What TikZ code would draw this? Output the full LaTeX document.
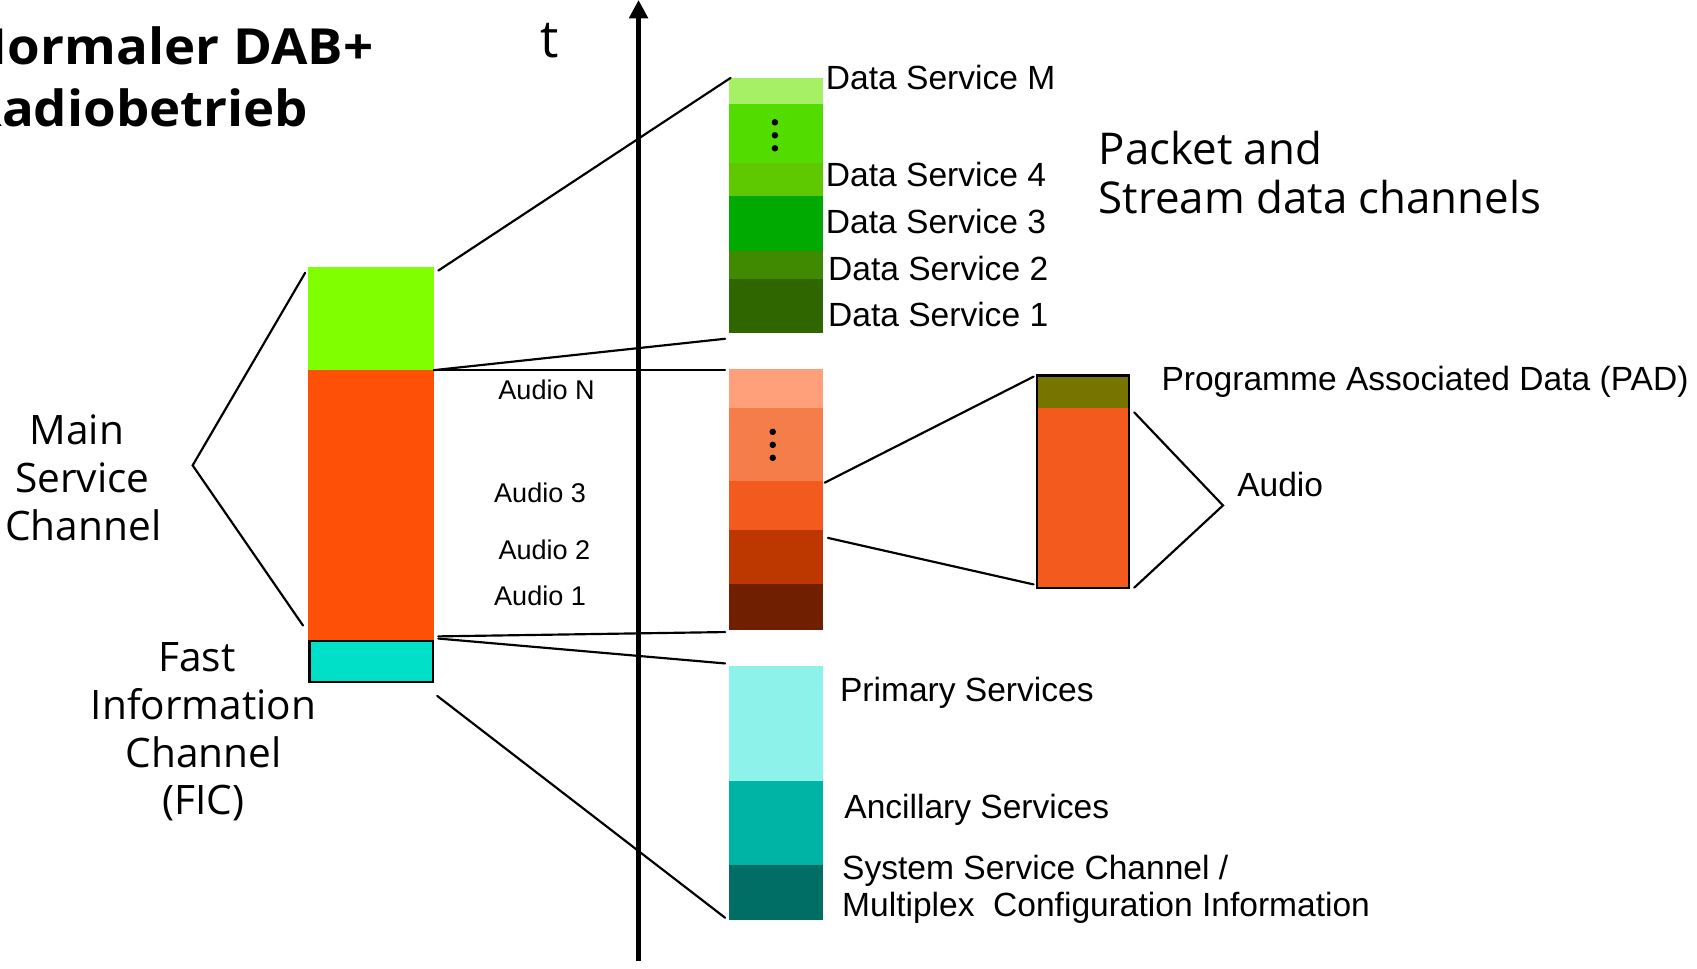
\documentclass[tikz,border=0pt]{standalone}
\usepackage{fontspec}
\setmainfont{Liberation Sans}
\newfontfamily\fru{Open Sans}
\newfontfamily\frutit{Open Sans}[FakeStretch=1.06]
\usetikzlibrary{arrows.meta}
\definecolor{cMsg}{HTML}{80FF00}
\definecolor{cMso}{HTML}{FF5008}
\definecolor{cFic}{HTML}{00E0C8}
\definecolor{cDsM}{HTML}{A5F064}
\definecolor{cDsD}{HTML}{52DC00}
\definecolor{cDsF}{HTML}{5EC800}
\definecolor{cDsT}{HTML}{00AA00}
\definecolor{cDsTw}{HTML}{3F8A00}
\definecolor{cDsO}{HTML}{2F6600}
\definecolor{cAN}{HTML}{FFA07A}
\definecolor{cAD}{HTML}{F47D4A}
\definecolor{cAT}{HTML}{F25A1E}
\definecolor{cATw}{HTML}{BD3800}
\definecolor{cAO}{HTML}{702000}
\definecolor{cPs}{HTML}{8CF2EA}
\definecolor{cAs}{HTML}{00B4A5}
\definecolor{cSsc}{HTML}{006E64}
\definecolor{cPad}{HTML}{757500}
\tikzset{
  blk/.style={rectangle, inner sep=0pt, outer sep=0pt, anchor=north west, draw=none},
  conn/.style={line width=2pt, line cap=round},
  lbl/.style={anchor=base west, inner sep=0pt, font=\fontsize{31}{36}\selectfont},
  albl/.style={anchor=base, inner sep=0pt, font=\fontsize{25}{30}\selectfont},
  flbl/.style={anchor=base, inner sep=0pt, font=\fru\fontsize{37.5}{44}\selectfont},
  titl/.style={anchor=base east, inner sep=0pt, font=\frutit\bfseries\fontsize{46}{52}\selectfont},
  dot/.style={circle, fill=black, inner sep=0pt, minimum size=6pt},
}
\begin{document}
\begin{tikzpicture}[x=1pt, y=-1pt]
\useasboundingbox (0,0) rectangle (1568,895);
\clip (0,0) rectangle (1568,895);
% title
\node[titl] (tit1) at (345,60) {Normaler DAB+};
\node[titl] (tit2) at (285,117) {Radiobetrieb};
\node[anchor=base, inner sep=0pt, font=\fru\fontsize{48}{52}\selectfont] (tlab) at (508,53) {t};
% time axis
\coordinate (axb) at (590,888);
\coordinate (axt) at (590,0);
\draw[line width=4pt, -{Triangle[length=17pt,width=17pt]}] (axb) -- (axt);
% left column
\node[blk, fill=cMsg, minimum width=116pt, minimum height=95pt] (msg) at (285,247) {};
\node[blk, fill=cMso, minimum width=116pt, minimum height=250pt] (mso) at (285,342) {};
\node[blk, fill=cFic, draw=black, line width=2pt, minimum width=114pt, minimum height=38pt] (fic) at (286,592) {};
% data services
\node[blk, fill=cDsM, minimum width=86pt, minimum height=24pt] (dsm) at (674,72) {};
\node[blk, fill=cDsD, minimum width=86pt, minimum height=55pt] (dsd) at (674,96) {};
\node[blk, fill=cDsF, minimum width=86pt, minimum height=30pt] (ds4) at (674,151) {};
\node[blk, fill=cDsT, minimum width=86pt, minimum height=51pt] (ds3) at (674,181) {};
\node[blk, fill=cDsTw, minimum width=86pt, minimum height=26pt] (ds2) at (674,232) {};
\node[blk, fill=cDsO, minimum width=86pt, minimum height=50pt] (ds1) at (674,258) {};
% audio
\node[blk, fill=cAN, minimum width=86pt, minimum height=36pt] (aN) at (674,341) {};
\node[blk, fill=cAD, minimum width=86pt, minimum height=67pt] (ad) at (674,377) {};
\node[blk, fill=cAT, minimum width=86pt, minimum height=46pt] (a3) at (674,444) {};
\node[blk, fill=cATw, minimum width=86pt, minimum height=50pt] (a2) at (674,490) {};
\node[blk, fill=cAO, minimum width=86pt, minimum height=42pt] (a1) at (674,540) {};
% FIC
\node[blk, fill=cPs, minimum width=86pt, minimum height=107pt] (ps) at (674,615) {};
\node[blk, fill=cAs, minimum width=86pt, minimum height=77pt] (as) at (674,722) {};
\node[blk, fill=cSsc, minimum width=86pt, minimum height=51pt] (ssc) at (674,799) {};
% dots
\node[dot] (dd1) at (716,113) {};
\node[dot] (dd2) at (716,125) {};
\node[dot] (dd3) at (716,137) {};
\node[dot] (ad1) at (714,399) {};
\node[dot] (ad2) at (714,411) {};
\node[dot] (ad3) at (714,423) {};
% PAD
\node[blk, fill=cPad, minimum width=85pt, minimum height=30pt] (pad) at (958,347) {};
\node[blk, fill=cAT, minimum width=85pt, minimum height=166pt] (paud) at (958,377) {};
\draw[line width=2pt] (pad.north west) rectangle (paud.south east);
% connectors
\draw[conn] ([shift={(4,3)}]msg.north east) -- ([shift={(1,0)}]dsm.north west);
\draw[conn] (msg.south east) -- ([shift={(-4,5)}]ds1.south west);
\draw[conn] (msg.south east) -- ([shift={(-4,1)}]aN.north west);
\draw[conn] ([shift={(4,-4)}]mso.south east) -- ([shift={(-4,2)}]a1.south west);
\draw[conn] ([shift={(4,-2)}]mso.south east) -- ([shift={(-4,-2)}]ps.north west);
\draw[conn] ([shift={(4,13)}]fic.south east) -- ([shift={(-4,-2)}]ssc.south west);
\draw[conn] ([shift={(2,2)}]a3.north east) -- ([shift={(-3,1)}]pad.north west);
\draw[conn] ([shift={(5,7)}]a2.north east) -- ([shift={(-3,-3)}]paud.south west);
\coordinate (mscb) at (178,430);
\draw[conn] ([shift={(-3,5)}]msg.north west) -- (mscb) -- ([shift={(-5,-14)}]mso.south west);
\coordinate (audb) at (1130,467);
\draw[conn] ([shift={(5,4)}]paud.north east) -- (audb) -- ([shift={(5,0)}]paud.south east);
% labels
\node[lbl] (ldsm) at (763,83) {Data Service M};
\node[lbl] (lds4) at (763,172) {Data Service 4};
\node[lbl] (lds3) at (763,216) {Data Service 3};
\node[lbl] (lds2) at (765,259) {Data Service 2};
\node[lbl] (lds1) at (765,302) {Data Service 1};
\node[albl] (laN) at (505,369) {Audio N};
\node[albl] (la3) at (499,464) {Audio 3};
\node[albl] (la2) at (503,517) {Audio 2};
\node[albl] (la1) at (499,559) {Audio 1};
\node[lbl] (lps) at (776,648) {Primary Services};
\node[lbl] (las) at (780,756) {Ancillary Services};
\node[lbl] (lssc1) at (778,813) {System Service Channel /};
\node[lbl] (lssc2) at (778,847) {Multiplex\ \ Configuration Information};
\node[lbl] (lpad) at (1073,361) {Programme Associated Data (PAD)};
\node[lbl] (laud) at (1143,459) {Audio};
\node[anchor=base west, inner sep=0pt, font=\fru\fontsize{40.5}{46}\selectfont] (pk1) at (1015,152) {Packet and};
\node[anchor=base west, inner sep=0pt, font=\fru\fontsize{40.5}{46}\selectfont] (pk2) at (1015,197) {Stream data channels};
\node[flbl] (m1) at (71,411) {Main};
\node[flbl] (m2) at (76,455) {Service};
\node[flbl] (m3) at (77,499) {Channel};
\node[flbl] (f1) at (182,620) {Fast};
\node[flbl] (f2) at (188,665) {Information};
\node[flbl] (f3) at (188,709) {Channel};
\node[flbl] (f4) at (188,753) {(FIC)};
\end{tikzpicture}
\end{document}
